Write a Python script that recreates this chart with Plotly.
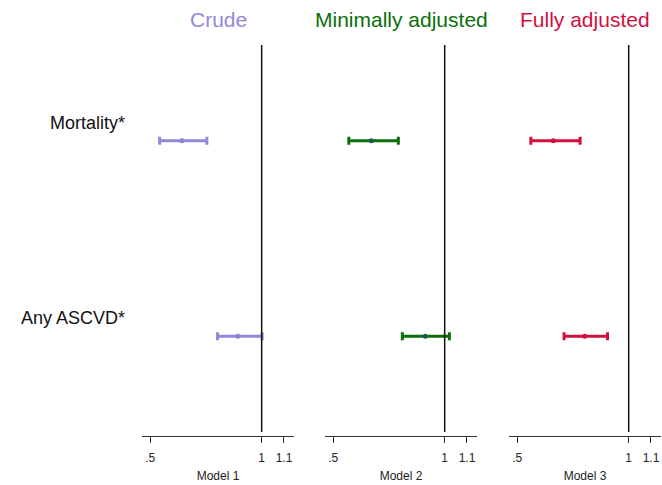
import plotly.graph_objects as go

outcomes = ["Mortality*", "Any ASCVD*"]
models = ["Model 1", "Model 2", "Model 3"]
titles = ["Crude", "Minimally adjusted", "Fully adjusted"]
colors = ["#8f89d9", "#0a700a", "#d0103f"]
marker_colors = ["#8a84d4", "#1f5a4a", "#d0103f"]

est = [[0.642, 0.893], [0.671, 0.913], [0.662, 0.803]]
lower = [[0.542, 0.802], [0.570, 0.810], [0.561, 0.710]]
upper = [[0.754, 1.002], [0.792, 1.021], [0.782, 0.905]]

tick_vals = [0.5, 1, 1.1]
tick_text = [".5", "1", "1.1"]

W, H = 662, 485
top, bottom = 45, 436
panel_left = [142, 325, 509]
panel_w = 152

fig = go.Figure()
font = "Liberation Sans, Arial, sans-serif"

for i in range(3):
    xa = "x" if i == 0 else f"x{i+1}"
    ya = "y" if i == 0 else f"y{i+1}"
    ypos = [1, 2]
    fig.add_trace(go.Scatter(
        x=est[i], y=ypos, mode="markers", xaxis=xa, yaxis=ya,
        marker=dict(color=marker_colors[i], size=5),
        error_x=dict(type="data", symmetric=False,
                     array=[u - e for u, e in zip(upper[i], est[i])],
                     arrayminus=[e - l for e, l in zip(est[i], lower[i])],
                     color=colors[i], thickness=3, width=4),
        showlegend=False, hoverinfo="skip"))
    xkey = "xaxis" if i == 0 else f"xaxis{i+1}"
    ykey = "yaxis" if i == 0 else f"yaxis{i+1}"
    fig.layout[xkey] = dict(
        domain=[panel_left[i] / W, (panel_left[i] + panel_w) / W],
        range=[0.463, 1.145], anchor=ya,
        showgrid=False, zeroline=False, showline=True, linecolor="#333333", linewidth=1,
        ticks="outside", ticklen=6, tickcolor="#333333", tickwidth=1,
        tickvals=tick_vals, ticktext=tick_text, ticklabelstandoff=5,
        tickfont=dict(size=12, color="#222222", family=font),
        title=dict(text=models[i], font=dict(size=12, color="#222222", family=font), standoff=7),
    )
    fig.layout[ykey] = dict(domain=[0, 1], range=[2.51, 0.51], visible=False,
                            anchor=xa, showgrid=False, zeroline=False)
    fig.add_shape(type="line", xref=xa, yref=f"{ya} domain", x0=1, x1=1, y0=0.01, y1=1,
                  line=dict(color="#111111", width=1.5))
    fig.add_annotation(text=titles[i], xref=f"{xa} domain", x=0.5, yref="paper",
                       y=1 + (top - 20) / (bottom - top), xanchor="center", yanchor="middle",
                       showarrow=False, font=dict(size=21, color=colors[i], family=font))

for j, lab in enumerate(outcomes):
    fig.add_annotation(text=lab, xref="paper", x=127 / W, yref="y", y=j + 1,
                       xanchor="right", yanchor="middle", yshift=18, showarrow=False,
                       font=dict(size=18, color="#111111", family=font))

fig.update_layout(width=W, height=H, margin=dict(l=0, r=0, t=top, b=H - bottom),
                  plot_bgcolor="white", paper_bgcolor="white")

fig.write_html("out.html", config={"displayModeBar": False},
               post_script="document.body.style.margin='0';")
